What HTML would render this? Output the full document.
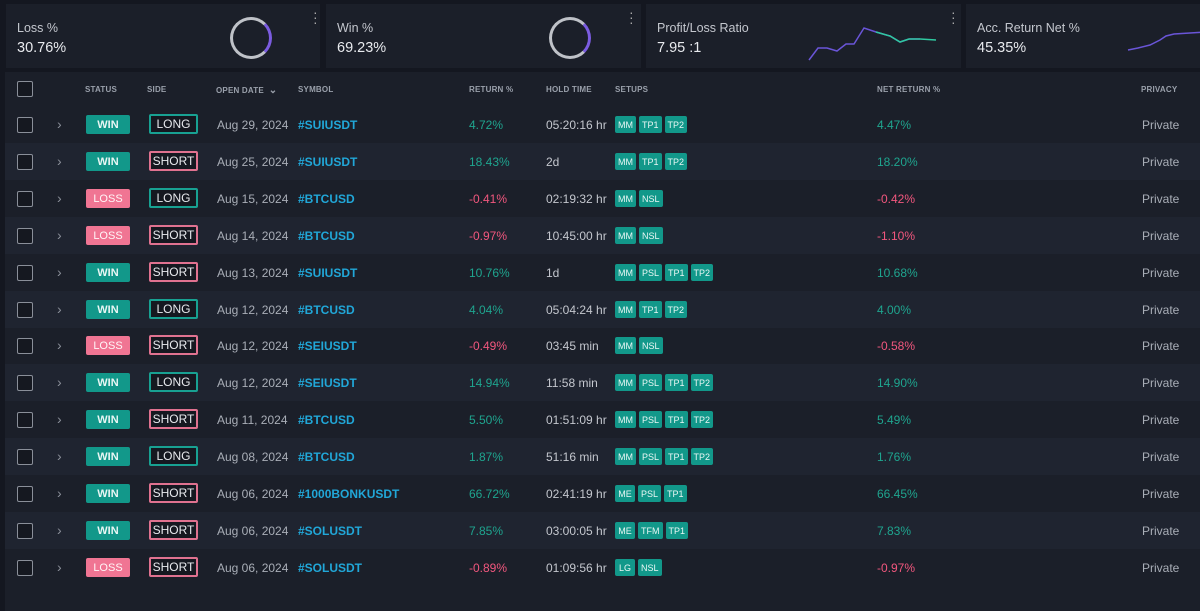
<!DOCTYPE html>
<html><head><meta charset="utf-8"><style>
*{box-sizing:border-box;margin:0;padding:0}
body{width:1200px;height:611px;background:#1b1f29;font-family:"Liberation Sans",sans-serif;position:relative;overflow:hidden;color:#c9ccd3}
.top{position:absolute;left:0;top:0;width:1200px;height:72px;background:#141720}
.card{position:absolute;top:4px;height:64px;background:#1b1f29}
.card .t{position:absolute;left:11px;top:17px;font-size:12.5px;color:#c4c7ce}
.card .v{position:absolute;left:11px;top:36px;font-size:14.5px;color:#e8eaee}
.dots{position:absolute;top:6px;font-size:14px;color:#aaa;line-height:5px;width:4px}
.ring{position:absolute;top:13px;width:42px;height:42px;border-radius:50%;border:3px solid #bfc2c8;border-right-color:#7b5ce0}
.leftbar{position:absolute;left:0;top:72px;width:5px;height:539px;background:#141720}
.hdr{position:absolute;top:85px;font-size:8px;font-weight:bold;color:#9aa0ab;letter-spacing:.2px}
.row{position:absolute;left:5px;width:1195px;height:37px}
.row.alt{background:#1f2430}
.cb{position:absolute;left:12px;width:16px;height:16px;border:1.5px solid #8a8f99;border-radius:2px;background:#151820}
.chev{position:absolute;left:52px;font-size:14px;color:#8a8f99}
.st{position:absolute;left:81px;width:44px;height:19px;font-size:11px;font-weight:bold;color:#e8f6f4;text-align:center;line-height:20px;border-radius:2px}
.win{background:#12988a}.loss{background:#f07593;color:#fff5f7;font-weight:normal}
.sd{position:absolute;left:144px;width:49px;height:20px;font-size:12px;color:#e8eaee;text-align:center;line-height:17px;border-width:2px;border-style:solid;border-radius:2px;background:#151820}
.sd.long{border-color:#18a192}.sd.short{border-color:#e07290}
.c{position:absolute;font-size:12px}
.sym{color:#21a7d8;font-weight:bold}
.g{color:#1fa58f}.r{color:#f2577e}
.tag{display:inline-block;height:17px;padding:0 3px;margin-right:3px;background:#12988a;color:#e9f7f5;font-size:9px;line-height:18px;border-radius:2px;min-width:20px;text-align:center}
</style></head><body>
<div class="top"></div>
<div class="card" style="left:6px;width:314px"><div class="t">Loss %</div><div class="v">30.76%</div><div class="ring" style="left:224px"></div><div class="dots" style="left:307px">·<br>·<br>·</div></div>
<div class="card" style="left:326px;width:315px"><div class="t">Win %</div><div class="v">69.23%</div><div class="ring" style="left:223px"></div><div class="dots" style="left:303px">·<br>·<br>·</div></div>
<div class="card" style="left:646px;width:315px"><div class="t">Profit/Loss Ratio</div><div class="v">7.95 :1</div>
<svg style="position:absolute;left:160px;top:18px" width="140" height="42"><polyline points="3,38 12,26 21,26 31,29 40,22 48,22 58,6 70,10 84,14 94,20 103,17 114,17" fill="none" stroke="#6a55d8" stroke-width="1.5"/><polyline points="70,10 84,14 94,20 103,17 114,17 130,18" fill="none" stroke="#2fc9a0" stroke-width="1.5"/></svg>
<div class="dots" style="left:305px">·<br>·<br>·</div></div>
<div class="card" style="left:966px;width:240px"><div class="t">Acc. Return Net %</div><div class="v">45.35%</div>
<svg style="position:absolute;left:160px;top:18px" width="80" height="42"><polyline points="2,28 12,26 24,23 34,18 40,14 48,12 80,10" fill="none" stroke="#6a55d8" stroke-width="1.5"/></svg></div>
<div class="leftbar"></div>
<div class="cb" style="left:17px;top:81px"></div>
<div class="hdr" style="left:85px">STATUS</div><div class="hdr" style="left:147px">SIDE</div><div class="hdr" style="left:216px">OPEN DATE &nbsp;<span style="font-size:10px">⌄</span></div><div class="hdr" style="left:298px">SYMBOL</div><div class="hdr" style="left:469px">RETURN %</div><div class="hdr" style="left:546px">HOLD TIME</div><div class="hdr" style="left:615px">SETUPS</div><div class="hdr" style="left:877px">NET RETURN %</div><div class="hdr" style="left:1141px">PRIVACY</div>
<div id="rows"></div>
<script>
var d=[["WIN","LONG","Aug 29, 2024","#SUIUSDT","4.72%","05:20:16 hr","MM TP1 TP2","4.47%"],
["WIN","SHORT","Aug 25, 2024","#SUIUSDT","18.43%","2d","MM TP1 TP2","18.20%"],
["LOSS","LONG","Aug 15, 2024","#BTCUSD","-0.41%","02:19:32 hr","MM NSL","-0.42%"],
["LOSS","SHORT","Aug 14, 2024","#BTCUSD","-0.97%","10:45:00 hr","MM NSL","-1.10%"],
["WIN","SHORT","Aug 13, 2024","#SUIUSDT","10.76%","1d","MM PSL TP1 TP2","10.68%"],
["WIN","LONG","Aug 12, 2024","#BTCUSD","4.04%","05:04:24 hr","MM TP1 TP2","4.00%"],
["LOSS","SHORT","Aug 12, 2024","#SEIUSDT","-0.49%","03:45 min","MM NSL","-0.58%"],
["WIN","LONG","Aug 12, 2024","#SEIUSDT","14.94%","11:58 min","MM PSL TP1 TP2","14.90%"],
["WIN","SHORT","Aug 11, 2024","#BTCUSD","5.50%","01:51:09 hr","MM PSL TP1 TP2","5.49%"],
["WIN","LONG","Aug 08, 2024","#BTCUSD","1.87%","51:16 min","MM PSL TP1 TP2","1.76%"],
["WIN","SHORT","Aug 06, 2024","#1000BONKUSDT","66.72%","02:41:19 hr","ME PSL TP1","66.45%"],
["WIN","SHORT","Aug 06, 2024","#SOLUSDT","7.85%","03:00:05 hr","ME TFM TP1","7.83%"],
["LOSS","SHORT","Aug 06, 2024","#SOLUSDT","-0.89%","01:09:56 hr","LG NSL","-0.97%"]];
var h="";d.forEach(function(r,i){var y=Math.round(106+i*36.9);var col=r[0]=="WIN"?"g":"r";
h+='<div class="row'+(i%2?' alt':'')+'" style="top:'+y+'px">'+
'<div class="cb" style="top:11px"></div><div class="chev" style="top:10px">›</div>'+
'<div class="st '+r[0].toLowerCase()+'" style="top:9px">'+r[0]+'</div>'+
'<div class="sd '+r[1].toLowerCase()+'" style="top:8px">'+r[1]+'</div>'+
'<div class="c" style="left:212px;top:12px;color:#a9aeb7">'+r[2]+'</div>'+
'<div class="c sym" style="left:293px;top:12px">'+r[3]+'</div>'+
'<div class="c '+col+'" style="left:464px;top:12px">'+r[4]+'</div>'+
'<div class="c" style="left:541px;top:12px;color:#c4c7ce">'+r[5]+'</div>'+
'<div class="c" style="left:610px;top:10px">'+r[6].split(" ").map(function(t){return '<span class="tag">'+t+'</span>'}).join("")+'</div>'+
'<div class="c '+col+'" style="left:872px;top:12px">'+r[7]+'</div>'+
'<div class="c" style="left:1137px;top:12px;color:#a9aeb7">Private</div></div>';});
document.getElementById("rows").innerHTML=h;
</script>
</body></html>
